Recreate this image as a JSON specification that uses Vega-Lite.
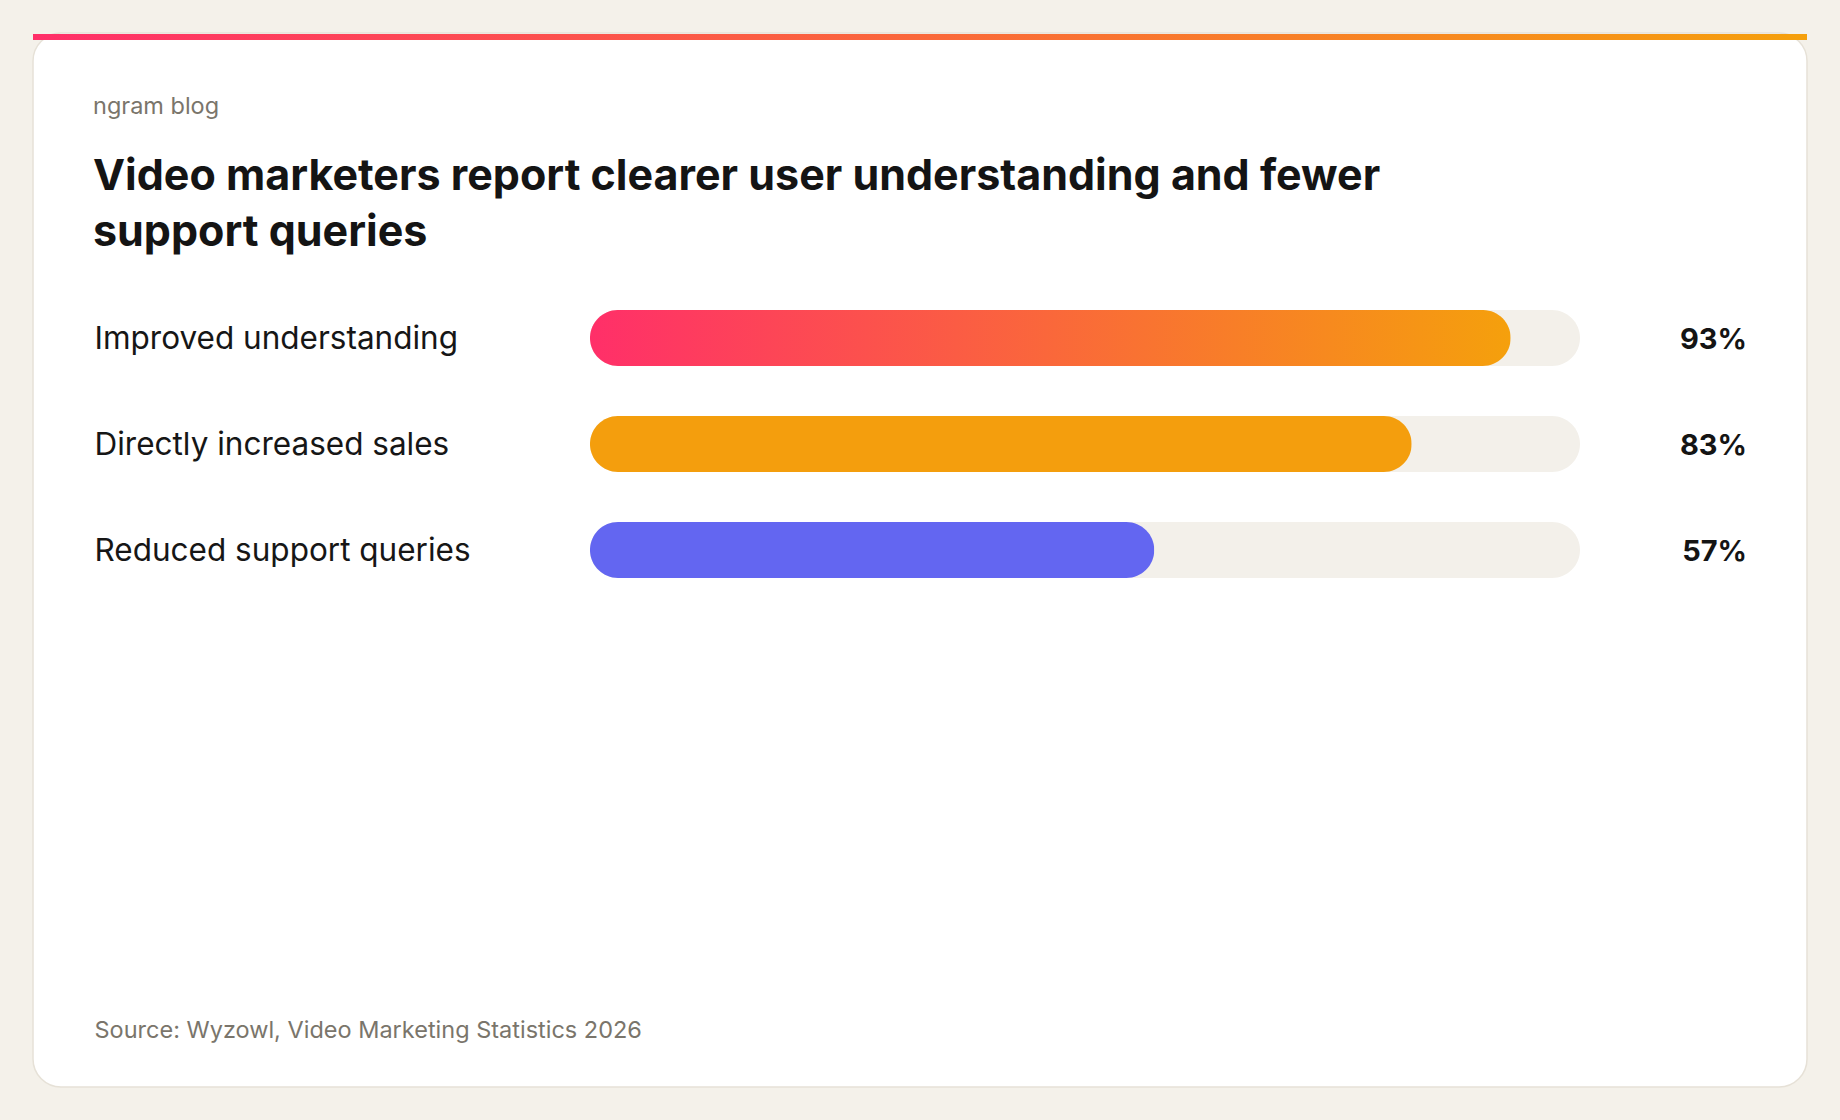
{
  "$schema": "https://vega.github.io/schema/vega-lite/v6.json",
  "width": 1774,
  "height": 1054,
  "autosize": {"type": "none"},
  "padding": {"left": 33, "top": 33, "right": 33, "bottom": 33},
  "background": "#f4f1ea",
  "config": {
    "font": "Inter",
    "view": {"fill": "#ffffff", "stroke": "#e6e1d7", "strokeWidth": 1.5, "cornerRadius": 28}
  },
  "title": {
    "text": "ngram blog",
    "subtitle": ["Video marketers report clearer user understanding and fewer", "support queries"],
    "anchor": "start",
    "frame": "group",
    "orient": "top",
    "offset": -222,
    "dx": 60,
    "font": "Inter",
    "fontSize": 23.5,
    "fontWeight": "normal",
    "color": "#7a756b",
    "subtitleFont": "Inter",
    "subtitleFontSize": 43,
    "subtitleFontWeight": 700,
    "subtitleColor": "#141414",
    "subtitleLineHeight": 56,
    "subtitlePadding": 37.5
  },
  "data": {
    "values": [
      {"label": "Improved understanding", "value": 93, "display": "93%"},
      {"label": "Directly increased sales", "value": 83, "display": "83%"},
      {"label": "Reduced support queries", "value": 57, "display": "57%"}
    ]
  },
  "layer": [
    {
      "transform": [{"filter": "datum.value == 93"}],
      "mark": {
        "type": "rect",
        "color": {"gradient": "linear", "x1": 0, "y1": 0, "x2": 1, "y2": 0, "stops": [{"offset": 0, "color": "#ff2f69"}, {"offset": 1, "color": "#f5a00c"}]}
      },
      "encoding": {"y": {"value": 1}, "y2": {"value": 7}}
    },
    {
      "mark": {"type": "bar", "cornerRadius": 28, "color": "#f3f0ea"},
      "encoding": {
        "y": {
          "field": "label",
          "type": "nominal",
          "scale": {
            "domain": ["Improved understanding", "Directly increased sales", "Reduced support queries"],
            "range": [252, 570],
            "paddingInner": 0.4717,
            "paddingOuter": 0.2358
          },
          "axis": {
            "title": null,
            "orient": "left",
            "offset": -61,
            "domain": false,
            "ticks": false,
            "tickSize": 0,
            "grid": false,
            "labelPadding": 0,
            "labelOffset": 2,
            "labelAlign": "left",
            "labelBaseline": "middle",
            "labelFont": "Inter",
            "labelFontSize": 31.5,
            "labelColor": "#161616",
            "labelLimit": 600
          }
        },
        "x": {
          "datum": 0,
          "type": "quantitative",
          "scale": {"domain": [-56.26, 122.93], "nice": false, "zero": false},
          "axis": {
            "orient": "bottom",
            "domain": false,
            "ticks": false,
            "labels": false,
            "grid": false,
            "title": "Source: Wyzowl, Video Marketing Statistics 2026",
            "titleX": 61,
            "titleY": -50,
            "titleAlign": "left",
            "titleAnchor": "start",
            "titleBaseline": "alphabetic",
            "titleFont": "Inter",
            "titleFontSize": 23.5,
            "titleFontWeight": "normal",
            "titleColor": "#7a756b"
          }
        },
        "x2": {"datum": 100}
      }
    },
    {
      "transform": [{"filter": "datum.value == 93"}],
      "mark": {
        "type": "bar",
        "cornerRadius": 28,
        "color": {"gradient": "linear", "x1": 0, "y1": 0, "x2": 1, "y2": 0, "stops": [{"offset": 0, "color": "#ff2f69"}, {"offset": 1, "color": "#f5a00c"}]}
      },
      "encoding": {
        "y": {"field": "label", "type": "nominal"},
        "x": {"field": "value", "type": "quantitative"}
      }
    },
    {
      "transform": [{"filter": "datum.value != 93"}],
      "mark": {"type": "bar", "cornerRadius": 28},
      "encoding": {
        "y": {"field": "label", "type": "nominal"},
        "x": {"field": "value", "type": "quantitative"},
        "color": {
          "field": "label",
          "type": "nominal",
          "scale": {"domain": ["Directly increased sales", "Reduced support queries"], "range": ["#f49e0d", "#6366f1"]},
          "legend": null
        }
      }
    },
    {
      "mark": {"type": "text", "align": "right", "baseline": "middle", "dx": 167, "dy": 2, "font": "Inter", "fontSize": 29, "fontWeight": 700, "color": "#141414"},
      "encoding": {
        "y": {"field": "label", "type": "nominal"},
        "x": {"datum": 100},
        "text": {"field": "display"}
      }
    }
  ]
}
